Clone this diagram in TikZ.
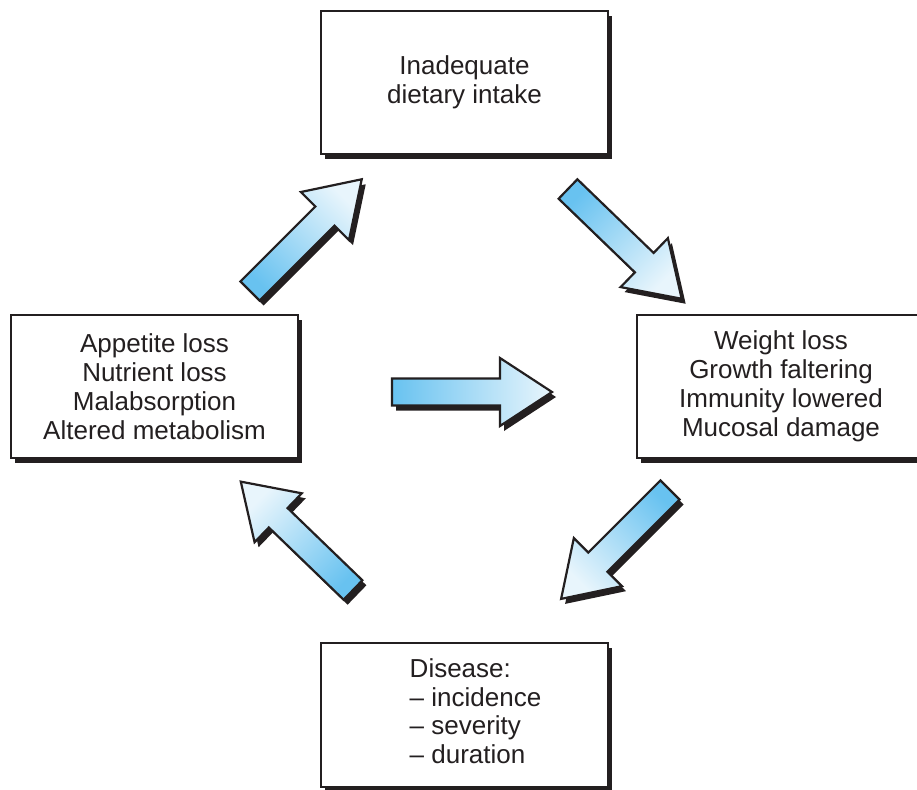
\documentclass[tikz,border=0pt]{standalone}
\usepackage{fontspec}
\setmainfont{Liberation Sans}
\usetikzlibrary{shadows}
\definecolor{arrowdark}{RGB}{104,194,240}
\definecolor{arrowlight}{RGB}{232,245,252}
\definecolor{ink}{RGB}{35,31,32}

% #1,#2 tail centre (px), #3 direction angle, #4 length
\newcommand{\blockarrow}[4]{%
  \pgfmathsetmacro\myshang{#3-90}%
  \begin{scope}[shift={(#1+4,#2+5)}, rotate=#3]
    \fill[ink] (0,-13.5) -- (#4-52,-13.5) -- (#4-52,-34) -- (#4,0) -- (#4-52,34) -- (#4-52,13.5) -- (0,13.5) -- cycle;
  \end{scope}
  \begin{scope}[shift={(#1,#2)}, rotate=#3]
    \shade[draw=ink, line width=2.2pt, line join=miter, top color=arrowlight, bottom color=arrowdark, shading angle=\myshang]
      (0,-13.5) -- (#4-52,-13.5) -- (#4-52,-34) -- (#4,0) -- (#4-52,34) -- (#4-52,13.5) -- (0,13.5) -- cycle;
  \end{scope}}

\begin{document}
\begin{tikzpicture}[x=1pt,y=-1pt,
  box/.style={draw=ink, line width=2pt, fill=white, minimum width=287pt, minimum height=143pt,
    inner sep=0pt, align=center, text=ink, font=\fontsize{26}{29}\selectfont,
    general shadow={fill=ink, shadow xshift=4pt, shadow yshift=-5pt}}]
\useasboundingbox (0,0) rectangle (917,789);
\clip (0,0) rectangle (917,789);

\node[box] (intake) at (464.5,82.5) {Inadequate\\dietary intake};
\node[box] (appetite) at (154.5,386.5) {Appetite loss\\Nutrient loss\\Malabsorption\\Altered metabolism};
\node[box, minimum width=288pt] (weight) at (781,386.5) {Weight loss\\Growth faltering\\Immunity lowered\\Mucosal damage};
\node[box, minimum height=144pt, font=\fontsize{26}{28.5}\selectfont] (disease) at (464.5,715)
  {\begin{tabular}{@{\hspace{22pt}}l@{}}Disease:\\\textendash\ incidence\\\textendash\ severity\\\textendash\ duration\end{tabular}};

\blockarrow{250}{291}{45}{158}
\blockarrow{568}{189}{-44}{158}
\blockarrow{670}{490}{-135}{154}
\blockarrow{353}{590}{136}{156}
\blockarrow{392}{392}{0}{160}
\end{tikzpicture}
\end{document}
